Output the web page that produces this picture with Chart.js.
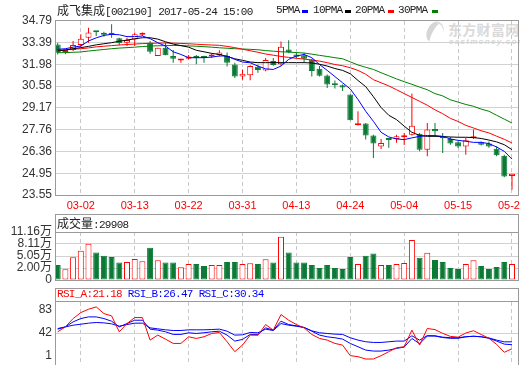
<!DOCTYPE html>
<html><head><meta charset="utf-8">
<script src="https://cdn.jsdelivr.net/npm/chart.js@4.4.1/dist/chart.umd.min.js"></script>
<style>
html,body{margin:0;padding:0;background:#fff}
body{width:520px;height:365px;overflow:hidden;position:relative}
canvas{position:absolute;left:0}
.t{position:absolute;white-space:nowrap;font-family:'Liberation Mono',monospace;font-size:11px;letter-spacing:-0.7px;line-height:12px;color:#222}
.c{font-family:'Noto Sans CJK SC',sans-serif;font-size:12px;letter-spacing:0}
.box{position:absolute;border:1px solid #9a9a9a;box-sizing:border-box;pointer-events:none}
.hl{position:absolute;height:1px;background:#9a9a9a}
.sw{position:absolute;width:6px;height:3px}
</style></head><body>
<div style="position:absolute;left:427px;top:21px;width:16px;height:22px;border-radius:50%;border-left:6px solid #d6d6d6;border-top:2px solid #dedede;box-sizing:border-box;transform:rotate(28deg)"></div>
<div style="position:absolute;left:448px;top:21px;font:bold 14px 'Noto Sans CJK SC';color:#dadada;letter-spacing:0.3px;line-height:16px">东方财富网</div>
<div style="position:absolute;left:449px;top:37px;font:italic bold 8px 'Liberation Sans';color:#d8d8d8;letter-spacing:1.3px;line-height:9px">eastmoney.com</div>
<canvas id="cMain" width="540" height="212" style="top:0"></canvas>
<canvas id="cVol" width="540" height="80" style="top:214px"></canvas>
<canvas id="cRsi" width="540" height="90" style="top:288px"></canvas>
<div class="box" style="left:55px;top:20px;width:464px;height:176px"></div>
<div class="box" style="left:55px;top:214px;width:464px;height:67px"></div>
<div class="box" style="left:55px;top:288px;width:464px;height:90px"></div>
<div class="hl" style="left:55px;top:301px;width:464px"></div>
<div class="t" style="left:57px;top:4px"><span class="c">成飞集成</span>[002190] 2017-05-24 15:00</div>
<div class="t" style="left:276px;top:4px">5PMA</div><div class="sw" style="left:302px;top:10px;background:#0000ff"></div>
<div class="t" style="left:313px;top:4px">10PMA</div><div class="sw" style="left:345px;top:10px;background:#000"></div>
<div class="t" style="left:355px;top:4px">20PMA</div><div class="sw" style="left:388px;top:10px;background:#ff0000"></div>
<div class="t" style="left:398px;top:4px">30PMA</div><div class="sw" style="left:432px;top:10px;background:#008000"></div>
<div class="t" style="left:57px;top:217px"><span class="c">成交量</span>:<span id="volTxt"></span></div>
<div class="t" style="left:57px;top:288px"><span style="color:#ff0000">RSI_A:<span id="ra"></span></span> <span style="color:#0000ff">RSI_B:<span id="rb"></span></span> <span style="color:#0000ff">RSI_C:<span id="rc"></span></span></div>
<script>
const dates = ['02-27','02-28','03-01','03-02','03-03','03-06','03-07','03-08','03-09','03-10',
'03-13','03-14','03-15','03-16','03-17','03-20','03-21','03-22','03-23','03-24',
'03-27','03-28','03-29','03-30','03-31','04-05','04-06','04-07','04-10','04-11',
'04-12','04-13','04-14','04-17','04-18','04-19','04-20','04-21','04-24','04-25',
'04-26','04-27','04-28','05-02','05-03','05-04','05-05','05-08','05-09','05-10',
'05-11','05-12','05-15','05-16','05-17','05-18','05-19','05-22','05-23','05-24'];
const xTickLabels = ['03-02','03-13','03-22','03-31','04-13','04-24','05-04','05-15','05-24'];

const open = [33.28,32.78,32.92,33.24,33.71,34.10,33.99,33.95,33.67,33.39,
33.60,33.90,33.39,32.53,33.07,32.53,32.24,32.35,32.50,32.45,
32.50,32.60,32.53,31.98,31.21,31.28,31.83,31.60,32.20,32.00,
32.95,32.63,32.57,32.31,31.70,31.27,30.75,30.64,30.04,28.06,
28.17,27.39,26.69,27.17,27.17,27.28,27.45,27.51,26.48,27.82,
27.34,27.17,26.95,26.69,27.21,26.95,26.87,26.54,26.09,24.77];
const high = [33.39,32.85,33.50,33.93,34.36,34.15,34.10,34.58,33.71,33.70,
34.04,34.04,33.50,33.07,33.39,32.92,32.35,32.60,32.60,32.55,
32.70,32.90,32.75,32.10,31.66,31.93,31.97,32.40,32.40,33.46,
33.55,32.74,32.74,32.35,31.88,31.33,30.95,30.69,30.04,28.96,
28.20,27.45,27.17,27.24,27.45,27.56,30.11,27.56,28.20,28.20,
27.56,27.30,27.02,27.23,27.78,27.00,27.00,26.70,26.15,24.92];
const low = [32.63,32.65,32.85,33.10,33.39,33.82,33.78,33.70,33.22,33.17,
33.17,33.82,32.68,32.53,32.57,32.10,32.10,32.30,32.00,32.10,
32.40,32.50,31.85,31.10,31.00,30.96,31.45,31.55,31.90,31.90,
32.70,32.40,32.10,31.20,31.20,30.47,30.43,30.27,28.38,28.04,
27.13,25.94,26.52,26.60,26.93,26.78,27.39,26.37,26.05,27.39,
26.26,26.80,26.58,26.15,27.17,26.75,26.60,26.05,24.70,23.89];
const close = [32.74,32.80,33.24,33.65,34.04,34.07,33.90,33.90,33.35,33.56,
33.93,33.97,32.81,33.07,32.57,32.35,32.26,32.50,32.40,32.40,
32.60,32.75,32.10,31.20,31.38,31.88,31.62,32.27,31.95,33.13,
32.79,32.48,32.35,31.56,31.25,30.69,30.64,30.49,28.38,28.10,
27.39,26.87,26.91,27.10,27.34,27.36,28.03,26.48,27.78,27.67,
27.21,26.87,26.69,27.08,27.25,26.80,26.69,26.11,24.75,24.92];

const ma5 = [32.96,33.00,33.10,33.17,33.50,33.70,33.86,33.93,33.90,33.78,
33.78,33.82,33.65,33.39,33.17,32.80,32.63,32.42,32.42,32.42,
32.46,32.53,32.53,32.31,32.14,32.09,31.88,31.70,31.66,31.88,
32.31,32.53,32.63,32.42,31.98,31.60,31.20,30.80,30.40,29.72,
28.96,28.31,27.60,27.30,27.17,27.13,27.24,27.34,27.39,27.39,
27.34,27.17,27.08,27.02,26.95,26.95,26.87,26.65,26.37,25.87];
const ma10 = [32.85,32.92,33.00,33.07,33.15,33.25,33.32,33.39,33.48,33.56,
33.64,33.71,33.71,33.62,33.45,33.30,33.20,33.10,32.90,32.80,
32.70,32.63,32.50,32.35,32.25,32.14,32.10,32.10,32.10,32.10,
32.10,32.10,32.10,32.08,32.00,31.88,31.72,31.60,31.38,30.95,
30.55,29.90,29.20,28.70,28.42,28.00,27.60,27.40,27.34,27.34,
27.32,27.30,27.28,27.28,27.26,27.20,27.10,26.98,26.80,26.48];
const ma20 = [32.90,32.93,32.97,33.00,33.05,33.12,33.16,33.20,33.24,33.27,
33.30,33.33,33.35,33.36,33.37,33.36,33.34,33.32,33.29,33.26,
33.24,33.22,33.15,33.07,32.97,32.87,32.77,32.66,32.58,32.50,
32.44,32.38,32.33,32.27,32.20,32.10,31.98,31.90,31.77,31.60,
31.35,31.00,30.80,30.60,30.35,30.10,29.85,29.60,29.35,29.05,
28.80,28.50,28.30,28.05,27.88,27.70,27.56,27.35,27.15,26.91];
const ma30 = [32.74,32.75,32.77,32.79,32.85,32.90,32.95,33.00,33.04,33.07,
33.10,33.14,33.17,33.19,33.20,33.21,33.20,33.18,33.16,33.13,
33.10,33.06,33.03,33.00,32.98,32.96,32.93,32.88,32.84,32.80,
32.78,32.75,32.72,32.65,32.57,32.50,32.42,32.35,32.15,31.95,
31.80,31.66,31.45,31.25,31.05,30.87,30.70,30.52,30.35,30.10,
29.95,29.70,29.55,29.40,29.28,29.10,28.96,28.70,28.45,28.20];

const volume = [2.79,1.68,4.75,6.36,8.15,5.93,5.09,4.83,3.37,3.55,
4.32,3.73,7.13,3.99,3.37,3.37,2.20,3.04,3.04,2.53,
2.79,2.79,3.55,3.55,3.04,3.22,3.04,4.24,3.37,9.95,
5.93,3.37,3.37,2.79,2.02,2.79,2.02,1.76,4.83,3.04,
5.09,5.68,2.79,2.79,3.04,3.30,9.10,4.58,5.85,4.06,
3.55,2.02,1.76,3.04,3.99,2.53,1.76,2.27,3.55,2.9908];

const rsiA = [43.6,50.1,61.1,69.0,73.4,76.5,67.7,64.6,43.6,54.5,
62.4,62.4,32.6,39.2,33.9,28.2,28.2,37.0,34.8,37.0,
41.4,42.7,30.4,17.3,26.0,39.2,39.0,53.2,45.8,66.4,
58.9,53.2,48.8,40.1,34.8,32.6,28.2,26.0,12.0,10.7,
7.6,7.6,12.0,17.3,22.5,23.8,45.8,26.0,48.0,46.5,
41.5,37.5,36.5,42.0,45.0,40.0,35.0,27.0,16.5,21.18];
const rsiB = [47.1,50.1,56.7,61.1,63.3,63.3,61.1,57.6,50.1,54.5,
58.9,58.9,47.1,45.8,43.6,40.1,40.1,42.3,41.4,42.3,
43.6,44.4,39.2,31.3,33.5,40.1,40.1,48.8,45.8,57.6,
53.2,51.5,49.3,44.4,39.2,37.0,35.7,33.9,28.2,23.8,
19.4,18.1,18.1,19.4,21.6,23.4,34.8,27.8,38.0,38.0,
36.0,35.0,35.0,37.0,37.7,37.0,35.0,31.3,27.3,26.47];
const rsiC = [47.9,50.1,52.3,53.6,55.0,55.9,55.4,54.1,51.0,53.2,
55.0,55.0,48.8,47.5,46.2,45.3,45.3,46.2,46.2,46.2,
46.6,47.1,44.4,39.2,39.6,42.7,42.3,47.1,45.3,54.5,
52.3,51.0,49.3,44.9,42.3,41.4,40.5,40.1,35.7,32.6,
30.4,29.5,29.5,30.4,31.3,31.3,38.3,32.6,38.5,38.3,
36.5,35.8,35.8,37.0,37.7,37.0,35.5,32.6,30.3,30.34];

const priceTicks = [23.55,24.95,26.36,27.76,29.17,30.58,31.98,33.39,34.79];
const volTicks = [-1.05,2.00,5.05,8.11,11.16];
const volTickLabels = ['0','2.00万','5.05万','8.11万','11.16万'];
const rsiTicks = [1,42,83];

// ---- styling ----
const RED='#ff0000', GREEN='#0a7a35', BLUE='#0000ff', BLACK='#000000', MAGREEN='#008000';
const GRID='#d2d2d2', VGRID='#c8c8c8', NONE='rgba(0,0,0,0)';
const xMin=-0.22, xMax=59.78;
const idx = dates.map((_, i) => i);
const up = i => close[i] >= open[i];
const tickPos = xTickLabels.map(l => dates.indexOf(l));
const pts = a => a.map((v, i) => ({x: i, y: v}));
const labelFont = {family: "'Liberation Sans','Noto Sans CJK SC',sans-serif", size: 12};

document.getElementById('volTxt').textContent = Math.round(volume[volume.length-1]*10000);
document.getElementById('ra').textContent = rsiA[rsiA.length-1].toFixed(2);
document.getElementById('rb').textContent = rsiB[rsiB.length-1].toFixed(2);
document.getElementById('rc').textContent = rsiC[rsiC.length-1].toFixed(2);

function xScale(show) {
  return {
    type: 'linear', min: xMin, max: xMax, offset: false,
    afterBuildTicks: s => { s.ticks = tickPos.map(v => ({value: v})); },
    ticks: {display: show, autoSkip: false, maxRotation: 0, minRotation: 0, padding: 4, color: RED,
      font: {family: "'Liberation Sans',sans-serif", size: 11}, callback: v => dates[v]},
    grid: {color: VGRID, lineWidth: 1, drawTicks: false, offset: false},
    border: {display: false, dash: [4, 3]},
    afterFit: s => { s.height = show ? 17 : 0; }
  };
}
function yScale(ticksArr, extra) {
  return Object.assign({type: 'linear', min: ticksArr[0], max: ticksArr[ticksArr.length-1],
    afterBuildTicks: s => { s.ticks = ticksArr.map(v => ({value: v})); },
    border: {display: false},
    afterFit: s => { s.width = 56; }}, extra);
}
const common = {responsive: false, animation: false, devicePixelRatio: 1, events: [],
  plugins: {legend: {display: false}, tooltip: {enabled: false}}};
const line = (arr, color) => ({type: 'line', data: pts(arr), borderColor: color, borderWidth: 1,
  pointRadius: 0, fill: false, tension: 0, order: 0});

new Chart(document.getElementById('cMain'), {
  type: 'bar',
  data: {datasets: [
    line(ma5, BLUE), line(ma10, BLACK), line(ma20, RED), line(ma30, MAGREEN),
    {type: 'bar', data: idx.map(i => ({x: i, y: [Math.min(open[i], close[i]), Math.max(open[i], close[i])]})),
      backgroundColor: idx.map(i => up(i) ? '#ffffff' : GREEN), borderColor: idx.map(i => up(i) ? RED : GREEN),
      borderWidth: 1, borderSkipped: false, barThickness: 6, minBarLength: 2, grouped: false, inflateAmount: 0, order: 1},
    {type: 'bar', data: idx.map(i => ({x: i, y: [low[i], high[i]]})),
      backgroundColor: idx.map(i => up(i) ? RED : GREEN), borderWidth: 0, barThickness: 1,
      grouped: false, inflateAmount: 0, order: 2}
  ]},
  options: {...common, layout: {padding: {top: 21, right: 22, left: 0, bottom: 0}},
    scales: {
      x: xScale(true),
      y: yScale(priceTicks, {
        ticks: {autoSkip: false, padding: 4, color: '#333', font: labelFont, callback: v => v.toFixed(2)},
        grid: {color: c => (c.tick && (c.tick.value === priceTicks[0] || c.tick.value === priceTicks[priceTicks.length-1])) ? NONE : GRID, drawTicks: false}})
    }}
});

new Chart(document.getElementById('cVol'), {
  type: 'bar',
  data: {datasets: [{data: pts(volume),
    backgroundColor: idx.map(i => up(i) ? '#ffffff' : GREEN), borderColor: idx.map(i => up(i) ? RED : GREEN),
    borderWidth: 1, borderSkipped: false, barThickness: 6, base: volTicks[0], grouped: false, inflateAmount: 0}]},
  options: {...common, layout: {padding: {top: 18, right: 22, left: 0, bottom: 14}},
    scales: {
      x: xScale(false),
      y: yScale(volTicks, {
        ticks: {autoSkip: false, padding: 4, color: '#333', font: labelFont, callback: v => volTickLabels[volTicks.indexOf(v)]},
        grid: {color: c => !c.tick ? GRID : (c.tick.value === volTicks[volTicks.length-1] ? '#9a9a9a' : (c.tick.value === volTicks[0] ? NONE : GRID)), drawTicks: false}})
    }}
});

const rsiLabelPlugin = {
  id: 'rsiLabels',
  afterDraw(chart) {
    const s = chart.scales.y, ctx = chart.ctx;
    ctx.save();
    ctx.font = "12px 'Liberation Sans',sans-serif";
    ctx.fillStyle = '#333'; ctx.textAlign = 'right'; ctx.textBaseline = 'middle';
    rsiTicks.forEach(v => {
      let y = s.getPixelForValue(v);
      y = Math.min(Math.max(y, s.top + 8), s.bottom - 8);
      ctx.fillText(String(v), s.right - 4, y);
    });
    ctx.restore();
  }
};
const rline = (arr, color) => ({data: pts(arr), borderColor: color, borderWidth: 1, pointRadius: 0, fill: false, tension: 0});
new Chart(document.getElementById('cRsi'), {
  type: 'line',
  data: {datasets: [rline(rsiA, RED), rline(rsiB, BLUE), rline(rsiC, BLUE)]},
  options: {...common, layout: {padding: {top: 14, right: 22, left: 0, bottom: 14}},
    scales: {
      x: xScale(false),
      y: yScale(rsiTicks, {
        ticks: {display: false},
        grid: {color: c => (c.tick && c.tick.value === rsiTicks[1]) ? GRID : NONE, drawTicks: false}})
    }},
  plugins: [rsiLabelPlugin]
});
</script>
</body></html>
